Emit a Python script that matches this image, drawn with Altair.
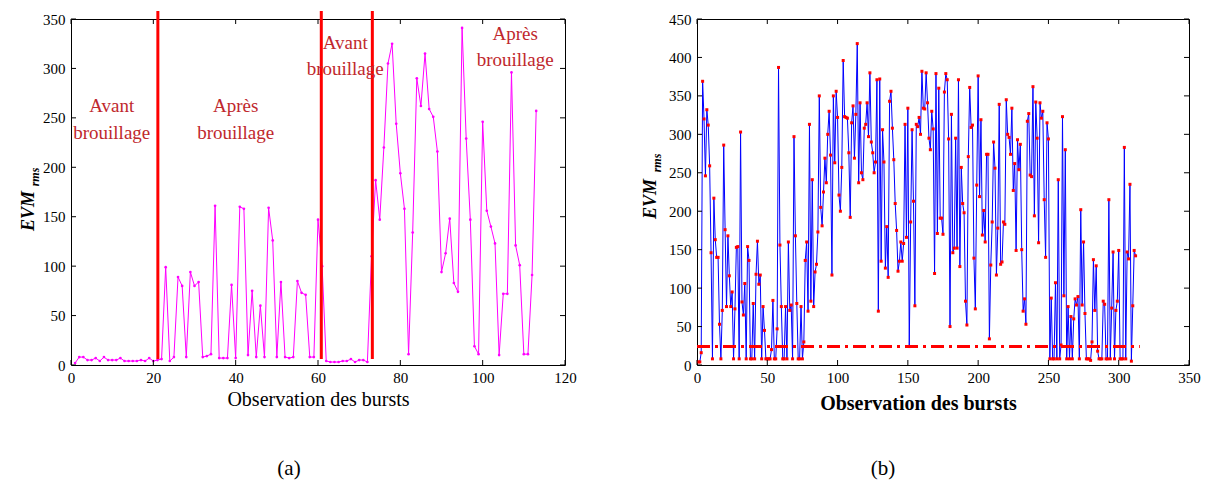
import altair as alt
import pandas as pd

SERIF = "Liberation Serif"
RED_TXT = "#C0282D"

# ---------------- Panel (a) ----------------
a_evm = [2, 8, 8, 5, 5, 7, 4, 8, 5, 5,
         5, 7, 4, 4, 4, 4, 5, 4, 7, 4,
         5, 6, 99, 4, 8, 89, 80, 8, 94, 80,
         84, 8, 9, 11, 161, 7, 7, 7, 81, 7,
         160, 158, 10, 75, 8, 60, 8, 159, 126, 8,
         84, 8, 7, 8, 85, 73, 71, 8, 8, 147,
         100, 4, 3, 3, 3, 4, 4, 6, 3, 5,
         5, 3, 110, 187, 147, 220, 305, 325, 244, 194,
         158, 11, 134, 290, 262, 315, 259, 251, 216, 94,
         113, 148, 83, 74, 341, 229, 147, 19, 11, 246,
         156, 140, 123, 10, 72, 72, 296, 121, 101, 11,
         11, 91, 257]
a_x = list(range(1, len(a_evm) + 1))
a_jam_x = [21.1, 60.8, 73.2]
a_ann_x = [9.9, 9.9, 40.0, 40.0, 66.6, 66.6, 107.9, 107.9]
a_ann_y = [256, 229, 256, 229, 320, 293, 329, 302]
a_ann_text = ["Avant", "brouillage", "Après", "brouillage",
              "Avant", "brouillage", "Après", "brouillage"]
a_xticks = [0, 20, 40, 60, 80, 100, 120]
a_yticks = [0, 50, 100, 150, 200, 250, 300, 350]

# ---------------- Panel (b) ----------------
b_evm = [4, 4, 16, 369, 320, 246, 332, 312, 259, 146,
         8, 217, 163, 140, 140, 53, 8, 71, 286, 176,
         76, 168, 116, 76, 95, 8, 73, 153, 154, 8,
         303, 82, 65, 106, 8, 154, 136, 8, 8, 80,
         8, 118, 161, 105, 117, 8, 76, 45, 8, 8,
         8, 8, 20, 84, 8, 8, 47, 387, 156, 76,
         8, 8, 76, 8, 160, 71, 78, 8, 297, 168,
         80, 8, 8, 76, 8, 30, 136, 160, 70, 313,
         83, 241, 76, 121, 131, 173, 350, 205, 181, 225,
         269, 237, 300, 330, 273, 117, 350, 263, 356, 322,
         221, 200, 257, 396, 323, 322, 321, 276, 192, 315,
         337, 269, 326, 418, 237, 341, 250, 241, 308, 313,
         341, 297, 380, 290, 276, 250, 264, 371, 70, 372,
         135, 306, 264, 126, 180, 114, 343, 356, 308, 267,
         210, 175, 122, 135, 160, 135, 158, 313, 166, 334,
         24, 186, 306, 213, 77, 313, 310, 322, 300, 382,
         334, 333, 380, 341, 295, 280, 330, 307, 119, 379,
         171, 360, 191, 191, 170, 355, 379, 371, 294, 50,
         326, 146, 152, 295, 152, 371, 128, 257, 210, 198,
         83, 52, 271, 361, 309, 312, 139, 73, 234, 376,
         219, 319, 169, 201, 160, 274, 274, 34, 130, 186,
         290, 256, 117, 178, 339, 131, 134, 186, 183, 345,
         300, 296, 274, 334, 227, 262, 149, 293, 254, 287,
         150, 70, 86, 53, 317, 327, 247, 245, 362, 194,
         342, 295, 159, 341, 321, 330, 215, 140, 315, 294,
         8, 87, 8, 8, 107, 8, 241, 8, 26, 323,
         90, 280, 8, 76, 8, 63, 8, 60, 86, 78,
         89, 8, 202, 78, 160, 67, 8, 8, 8, 6,
         30, 137, 71, 129, 18, 8, 8, 8, 83, 79,
         8, 8, 215, 8, 74, 147, 8, 71, 83, 149,
         8, 8, 8, 283, 8, 147, 138, 235, 5, 77,
         149, 142]
b_x = list(range(1, len(b_evm) + 1))
b_thr_x = [0, 315]
b_thr_v = [24, 24]
b_xticks = [0, 50, 100, 150, 200, 250, 300, 350]
b_yticks = [0, 50, 100, 150, 200, 250, 300, 350, 400, 450]

W_A, W_B, H = 494, 492, 346


def x_axis(values, title, weight, pad, title_x=None):
    kw = dict(values=values, ticks=False, domain=False, grid=False,
              labelFont=SERIF, labelFontSize=15, labelColor="black",
              labelPadding=5, labelFlush=False, labelOverlap=False,
              format="d", title=title, titleFont=SERIF, titleFontSize=20,
              titleFontWeight=weight, titleColor="black", titlePadding=pad)
    if title_x is not None:
        kw["titleX"] = title_x
        kw["titleAlign"] = "center"
    return alt.Axis(**kw)


def y_axis(values):
    return alt.Axis(values=values, ticks=False, domain=False, grid=False,
                    labelFont=SERIF, labelFontSize=15, labelColor="black",
                    labelPadding=6, labelFlush=False, labelOverlap=False,
                    format="d", title=None)


def inner_ticks(xticks, yticks, xs, ys, xa, ya, w, h):
    dfx = pd.DataFrame({"t": xticks})
    dfy = pd.DataFrame({"t": yticks})
    base_x = alt.Chart(dfx).mark_rule(color="black", strokeWidth=1)
    base_y = alt.Chart(dfy).mark_rule(color="black", strokeWidth=1)
    xe = alt.X("t:Q", scale=xs, axis=xa)
    ye = alt.Y("t:Q", scale=ys, axis=ya)
    return [
        base_x.encode(x=xe, y=alt.value(h), y2=alt.value(h - 5)),
        base_x.encode(x=xe, y=alt.value(0), y2=alt.value(5)),
        base_y.encode(y=ye, x=alt.value(0), x2=alt.value(5)),
        base_y.encode(y=ye, x=alt.value(w - 5), x2=alt.value(w)),
    ]


def evm_title(xm, ym, xs_, ys_):
    t1 = alt.Chart(pd.DataFrame({"t": ["EVM"]})).mark_text(
        angle=270, font=SERIF, fontSize=18, fontStyle="italic", fontWeight="bold",
        color="black", align="center", baseline="middle"
    ).encode(text="t:N", x=alt.value(xm), y=alt.value(ym))
    t2 = alt.Chart(pd.DataFrame({"t": ["rms"]})).mark_text(
        angle=270, font=SERIF, fontSize=12, fontStyle="italic", fontWeight="bold",
        color="black", align="center", baseline="middle"
    ).encode(text="t:N", x=alt.value(xs_), y=alt.value(ys_))
    return [t1, t2]


def caption(txt, xc):
    return alt.Chart(pd.DataFrame({"t": [txt]})).mark_text(
        font=SERIF, fontSize=21, color="black", align="center", baseline="middle"
    ).encode(text="t:N", x=alt.value(xc), y=alt.value(450))


# ----- build panel (a)
xs_a = alt.Scale(domain=[0, 120], nice=False, zero=False)
ys_a = alt.Scale(domain=[0, 350], nice=False)
xa_a = x_axis(a_xticks, "Observation des bursts", "normal", 4)
ya_a = y_axis(a_yticks)
df_a = pd.DataFrame({"x": a_x, "v": a_evm})

line_a = alt.Chart(df_a).mark_line(
    color="#FF00FF", strokeWidth=1,
    point=alt.OverlayMarkDef(color="#FF00FF", size=7, filled=True)
).encode(
    x=alt.X("x:Q", scale=xs_a, axis=xa_a),
    y=alt.Y("v:Q", scale=ys_a, axis=ya_a),
)
jam_a = alt.Chart(pd.DataFrame({"x": a_jam_x})).mark_rule(
    color="#FF0000", strokeWidth=3
).encode(x=alt.X("x:Q", scale=xs_a, axis=xa_a), y=alt.datum(6), y2=alt.datum(358))
ann_a = alt.Chart(pd.DataFrame({"x": a_ann_x, "v": a_ann_y, "t": a_ann_text})).mark_text(
    font=SERIF, fontSize=19, color=RED_TXT, align="center", baseline="alphabetic"
).encode(x=alt.X("x:Q", scale=xs_a, axis=xa_a),
         y=alt.Y("v:Q", scale=ys_a, axis=ya_a), text="t:N")

panel_a = alt.layer(
    line_a, jam_a, ann_a,
    *inner_ticks(a_xticks, a_yticks, xs_a, ys_a, xa_a, ya_a, W_A, H),
    *evm_title(-42, 192, -36, 158),
    caption("(a)", 218),
).properties(width=W_A, height=H)

# ----- build panel (b)
xs_b = alt.Scale(domain=[0, 350], nice=False, zero=False)
ys_b = alt.Scale(domain=[0, 450], nice=False)
xa_b = x_axis(b_xticks, "Observation des bursts", "bold", 8, 221)
ya_b = y_axis(b_yticks)
df_b = pd.DataFrame({"x": b_x, "v": b_evm})

line_b = alt.Chart(df_b).mark_line(
    color="#0000FF", strokeWidth=1,
    point=alt.OverlayMarkDef(color="#FF0000", size=9, shape="square", filled=True)
).encode(
    x=alt.X("x:Q", scale=xs_b, axis=xa_b),
    y=alt.Y("v:Q", scale=ys_b, axis=ya_b),
)
thr_b = alt.Chart(pd.DataFrame({"x": b_thr_x, "v": b_thr_v})).mark_line(
    color="#FF0000", strokeWidth=3, strokeDash=[13, 5, 3, 5]
).encode(x=alt.X("x:Q", scale=xs_b, axis=xa_b), y=alt.Y("v:Q", scale=ys_b, axis=ya_b))

panel_b = alt.layer(
    line_b, thr_b,
    *inner_ticks(b_xticks, b_yticks, xs_b, ys_b, xa_b, ya_b, W_B, H),
    *evm_title(-46, 180, -40, 144),
    caption("(b)", 186),
).properties(width=W_B, height=H)

chart = alt.hconcat(panel_a, panel_b, spacing=132, bounds="flush").properties(
    padding={"left": 11, "top": 1, "right": 0, "bottom": 0},
    background="white",
).configure_view(stroke="black", strokeWidth=1)

chart.save("out.html", embed_options={"renderer": "svg", "actions": False})
